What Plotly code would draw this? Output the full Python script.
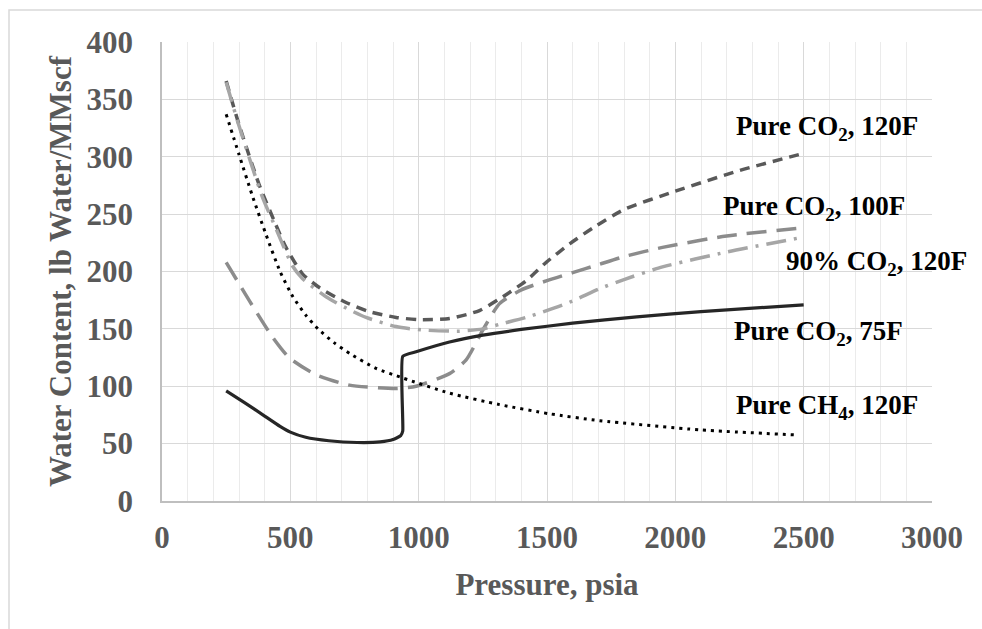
import plotly.graph_objects as go

# ---- data ----
co2_120_x = [250, 300, 378, 443, 483, 547, 613, 717, 808, 912, 1000, 1120, 1237, 1328, 1419, 1497, 1588, 1679, 1800, 2000, 2250, 2500]
co2_120_y = [366, 328, 276, 241, 221, 198, 186, 173, 165, 160, 158, 159, 166, 178, 192, 208, 224, 238, 254, 270, 288, 303]

co2_100_x = [250, 339, 430, 495, 600, 730, 912, 990, 1120, 1185, 1250, 1315, 1400, 1500, 1600, 1700, 1800, 1950, 2200, 2500]
co2_100_y = [208, 175, 143, 125, 110, 101, 98, 100, 111, 123, 149, 172, 184, 192, 199, 206, 213, 221, 231, 238]

co2_90_x = [250, 300, 391, 443, 508, 547, 639, 736, 795, 912, 1016, 1159, 1250, 1315, 1419, 1575, 1705, 1800, 1950, 2200, 2500]
co2_90_y = [365, 327, 265, 238, 205, 194, 178, 166, 160, 152, 149, 148, 150, 154, 160, 172, 185, 193, 204, 217, 230]

co2_75_x = [250, 320, 400, 460, 500, 560, 650, 760, 850, 900, 930, 938, 938, 990, 1120, 1250, 1400, 1600, 1850, 2100, 2500]
co2_75_y = [96, 86, 74, 65, 60, 55.5, 52.5, 51, 51.5, 53.5, 57, 61, 126, 130, 138.5, 144.5, 149.5, 155, 160.5, 165, 171]

ch4_120_x = [250, 300, 352, 404, 460, 510, 560, 608, 670, 732, 830, 941, 1120, 1315, 1510, 1705, 2095, 2480]
ch4_120_y = [337, 302, 266, 233, 200, 178, 162, 150, 138, 128.5, 116, 107, 94, 84, 76, 70, 62, 57.5]

label_text = ["Pure CO<sub>2</sub>, 120F", "Pure CO<sub>2</sub>, 100F", "90% CO<sub>2</sub>, 120F",
              "Pure CO<sub>2</sub>, 75F", "Pure CH<sub>4</sub>, 120F"]
label_x = [2591, 2540, 2782, 2556, 2591]
label_y = [325, 255, 207, 146, 82]

x_title = "Pressure, psia"
y_title = "Water Content, lb Water/MMscf"

FONT = "Liberation Serif, Times New Roman, serif"
AX_COLOR = "#595959"

fig = go.Figure()
fig.add_trace(go.Scatter(x=co2_120_x, y=co2_120_y, mode="lines", name="Pure CO2, 120F",
                         line=dict(color="#595959", width=3.5, dash="10px,7px", shape="spline", smoothing=0.6)))
fig.add_trace(go.Scatter(x=co2_100_x, y=co2_100_y, mode="lines", name="Pure CO2, 100F",
                         line=dict(color="#8c8c8c", width=3.5, dash="20px,10px", shape="spline", smoothing=0.6)))
fig.add_trace(go.Scatter(x=co2_90_x, y=co2_90_y, mode="lines", name="90% CO2, 120F",
                         line=dict(color="#a6a6a6", width=3.5, dash="20px,8px,3px,8px", shape="spline", smoothing=0.6)))
fig.add_trace(go.Scatter(x=co2_75_x, y=co2_75_y, mode="lines", name="Pure CO2, 75F",
                         line=dict(color="#262626", width=3.2, shape="spline", smoothing=0.4)))
fig.add_trace(go.Scatter(x=ch4_120_x, y=ch4_120_y, mode="lines", name="Pure CH4, 120F",
                         line=dict(color="#000000", width=3, dash="3px,5px", shape="spline", smoothing=0.6)))

for t, x, y in zip(label_text, label_x, label_y):
    fig.add_annotation(x=x, y=y, xref="x", yref="y", text=t, showarrow=False,
                       xanchor="center", yanchor="middle",
                       font=dict(family=FONT, size=27, color="#000000", weight="bold"))

# outer chart border
fig.add_shape(type="rect", xref="paper", yref="paper", x0=-0.1987, y0=-0.31, x1=1.12, y1=1.0697,
              line=dict(color="#d9d9d9", width=1.5), fillcolor="rgba(0,0,0,0)", layer="below")

fig.update_layout(
    width=982, height=629,
    margin=dict(l=162, r=50, t=42, b=128, autoexpand=False),
    paper_bgcolor="white", plot_bgcolor="white",
    showlegend=False,
    font=dict(family=FONT, color=AX_COLOR),
)
fig.update_xaxes(
    range=[0, 3000], dtick=500, tick0=0,
    showgrid=True, gridcolor="#d9d9d9", gridwidth=1.3,
    minor=dict(dtick=100, showgrid=True, gridcolor="#ebebeb", gridwidth=1),
    showline=True, linecolor="#bfbfbf", linewidth=1.5, zeroline=False,
    ticks="", ticklabelstandoff=8,
    tickfont=dict(family=FONT, size=31, color=AX_COLOR, weight="bold"),
    title=dict(text=x_title, standoff=19, font=dict(family=FONT, size=31, color=AX_COLOR, weight="bold")),
    automargin=False,
)
fig.update_yaxes(
    range=[0, 400], dtick=50, tick0=0,
    showgrid=True, gridcolor="#d9d9d9", gridwidth=1.3,
    showline=True, linecolor="#bfbfbf", linewidth=1.5, zeroline=False,
    ticks="", ticklabelstandoff=21,
    tickfont=dict(family=FONT, size=31, color=AX_COLOR, weight="bold"),
    title=dict(text=y_title, standoff=6, font=dict(family=FONT, size=31, color=AX_COLOR, weight="bold")),
    automargin=False,
)

fig.write_html("out.html",
               config={"displayModeBar": False},
               post_script="document.body.style.margin='0';document.body.style.overflow='hidden';")
